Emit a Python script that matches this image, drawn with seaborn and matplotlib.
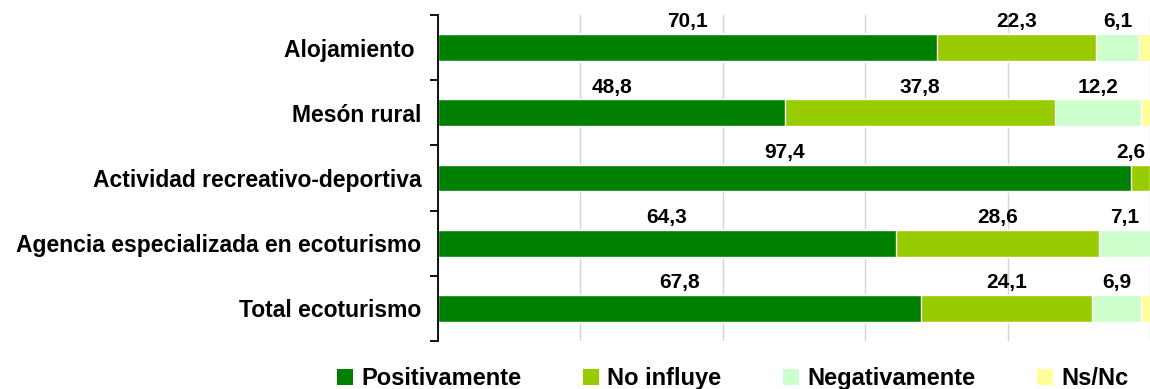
import matplotlib
matplotlib.use("Agg")
import matplotlib.pyplot as plt
from matplotlib.patches import Patch
from matplotlib.ticker import FixedLocator
import numpy as np
import pandas as pd
import seaborn as sns

# Survey shares (%) per type of ecotourism business
categories = ["Alojamiento ", "Mesón rural", "Actividad recreativo-deportiva",
              "Agencia especializada en ecoturismo", "Total ecoturismo"]
positivamente = [70.1, 48.8, 97.4, 64.3, 67.8]
no_influye = [22.3, 37.8, 2.6, 28.6, 24.1]
negativamente = [6.1, 12.2, 0.0, 7.1, 6.9]
ns_nc = [1.5, 1.2, 0.0, 0.0, 1.2]

series_names = ["Positivamente", "No influye", "Negativamente", "Ns/Nc"]
colors = ["#008000", "#99CC00", "#CCFFCC", "#FFFF99"]
labelled = [True, True, True, False]

sns.set_theme(style="white")
plt.rcParams["font.family"] = ["Liberation Sans", "DejaVu Sans"]
plt.rcParams["text.color"] = "black"

series = [positivamente, no_influye, negativamente, ns_nc]
values = np.array(series, dtype=float)
cum = np.cumsum(values, axis=0)

fig = plt.figure(figsize=(11.5, 3.89), dpi=100)
ax = fig.add_axes([438 / 1150, 1 - 341 / 389, 1 - 438 / 1150, (341 - 15) / 389])

bar_h = 0.41
# stacked bars: draw cumulative totals from the outermost segment inwards
for i in range(len(series) - 1, -1, -1):
    df = pd.DataFrame({"categoria": categories, "valor": cum[i]})
    sns.barplot(data=df, x="valor", y="categoria", orient="h", color=colors[i],
                saturation=1, width=bar_h, errorbar=None, ax=ax, zorder=2)

# value labels centred on each segment, just above the bar
for i, name in enumerate(series_names):
    if not labelled[i]:
        continue
    for j, v in enumerate(values[i]):
        if v <= 0:
            continue
        start = cum[i][j] - v
        xc, ha = start + v / 2, "center"
        if xc > 97:  # keep labels of thin end segments inside the axes
            xc, ha = 99.3, "right"
        ax.text(xc, j - bar_h / 2 - 0.045, f"{v:.1f}".replace(".", ","),
                ha=ha, va="bottom", fontsize=15, fontweight="bold",
                color="black", zorder=4)

ax.set_xlim(0, 100)
ax.set_ylim(len(categories) - 0.5, -0.5)
ax.set_xticks([0, 20, 40, 60, 80, 100])
ax.set_xticklabels([])
ax.tick_params(axis="x", length=0)
ax.grid(axis="x", color="#d4d4d4", linewidth=1, zorder=0)
ax.set_axisbelow(True)

ax.set_xlabel("")
ax.set_ylabel("")
ax.tick_params(axis="y", which="major", length=0, pad=12, labelcolor="black")
ax.yaxis.set_minor_locator(FixedLocator(np.arange(-0.5, len(categories), 1.0)))
ax.tick_params(axis="y", which="minor", left=True, length=6, width=1.3,
               direction="out", color="black")
for lbl in ax.get_yticklabels():
    lbl.set_fontsize(16.5)
    lbl.set_fontweight("bold")

for side in ["top", "right", "bottom"]:
    ax.spines[side].set_visible(False)
ax.spines["left"].set_color("black")
ax.spines["left"].set_linewidth(1.3)

handles = [Patch(facecolor=c, edgecolor="none", label=n) for c, n in zip(colors, series_names)]
leg = fig.legend(handles=handles, loc="center", bbox_to_anchor=(0.637, 0.026), ncol=4,
                 frameon=False, handlelength=0.7, handleheight=0.7, handletextpad=0.34,
                 columnspacing=2.6, prop={"weight": "bold", "size": 17})
for t in leg.get_texts():
    t.set_color("black")

fig.savefig("out.png", dpi=100)
